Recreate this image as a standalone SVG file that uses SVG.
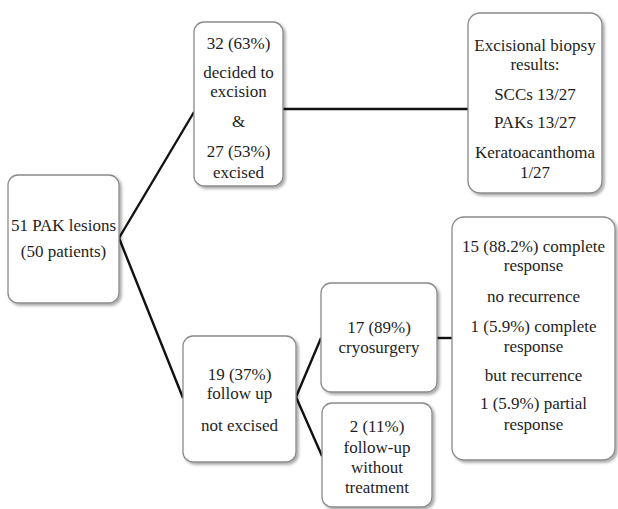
<svg xmlns="http://www.w3.org/2000/svg" width="618" height="509" viewBox="0 0 618 509">
<defs>
<filter id="sh" x="-10%" y="-10%" width="130%" height="130%">
<feGaussianBlur in="SourceAlpha" stdDeviation="1.5"/>
<feOffset dx="1.5" dy="2" result="b"/>
<feComponentTransfer><feFuncA type="linear" slope="0.35"/></feComponentTransfer>
<feMerge><feMergeNode/><feMergeNode in="SourceGraphic"/></feMerge>
</filter>
<style>
.box{fill:#fff;stroke:#8a8a8a;stroke-width:1.3;filter:url(#sh)}
text{font-family:'Liberation Serif',Tinos,'Times New Roman',serif;font-size:17px;fill:#1e1e1e;text-anchor:middle}
.c{stroke:#111;stroke-width:2.4;fill:none}
</style>
</defs>
<rect width="618" height="509" fill="#fff"/>
<g id="connectors">
<line class="c" x1="119" y1="238" x2="194" y2="112"/>
<line class="c" x1="119" y1="238" x2="183" y2="398"/>
<line class="c" x1="283" y1="109" x2="468" y2="109"/>
<line class="c" x1="296" y1="397" x2="321" y2="338"/>
<line class="c" x1="296" y1="397" x2="322" y2="456"/>
<line class="c" x1="437" y1="338" x2="452" y2="338"/>
</g>
<g font-family="Liberation Serif, serif">
<g id="n-root">
<rect class="box" x="8" y="175" width="111" height="128" rx="10"/>
<text x="63.5" y="231">51 PAK lesions</text>
<text x="63.5" y="257">(50 patients)</text>
</g>
<g id="n-excision">
<rect class="box" x="194" y="22" width="89" height="164" rx="10"/>
<text x="238.5" y="49">32 (63%)</text>
<text x="238.5" y="78">decided to</text>
<text x="238.5" y="97">excision</text>
<text x="238.5" y="127">&amp;</text>
<text x="238.5" y="157">27 (53%)</text>
<text x="238.5" y="178">excised</text>
</g>
<g id="n-biopsy">
<rect class="box" x="468" y="13" width="134" height="180" rx="12"/>
<text x="535" y="51">Excisional biopsy</text>
<text x="535" y="70">results:</text>
<text x="535" y="100">SCCs 13/27</text>
<text x="535" y="128">PAKs 13/27</text>
<text x="535" y="158">Keratoacanthoma</text>
<text x="535" y="178">1/27</text>
</g>
<g id="n-followup">
<rect class="box" x="183" y="336" width="113" height="126" rx="10"/>
<text x="239.5" y="380">19 (37%)</text>
<text x="239.5" y="399">follow up</text>
<text x="239.5" y="431">not excised</text>
</g>
<g id="n-cryo">
<rect class="box" x="321" y="283" width="116" height="109" rx="10"/>
<text x="379" y="333">17 (89%)</text>
<text x="379" y="353">cryosurgery</text>
</g>
<g id="n-notreat">
<rect class="box" x="322" y="403" width="110" height="104" rx="10"/>
<text x="377" y="432">2 (11%)</text>
<text x="377" y="453">follow-up</text>
<text x="377" y="473">without</text>
<text x="377" y="493">treatment</text>
</g>
<g id="n-response">
<rect class="box" x="452" y="217" width="163" height="243" rx="12"/>
<text x="533.5" y="252">15 (88.2%) complete</text>
<text x="533.5" y="271">response</text>
<text x="533.5" y="302">no recurrence</text>
<text x="533.5" y="332">1 (5.9%) complete</text>
<text x="533.5" y="352">response</text>
<text x="533.5" y="381">but recurrence</text>
<text x="533.5" y="409">1 (5.9%) partial</text>
<text x="533.5" y="430">response</text>
</g>
</g>
</svg>
